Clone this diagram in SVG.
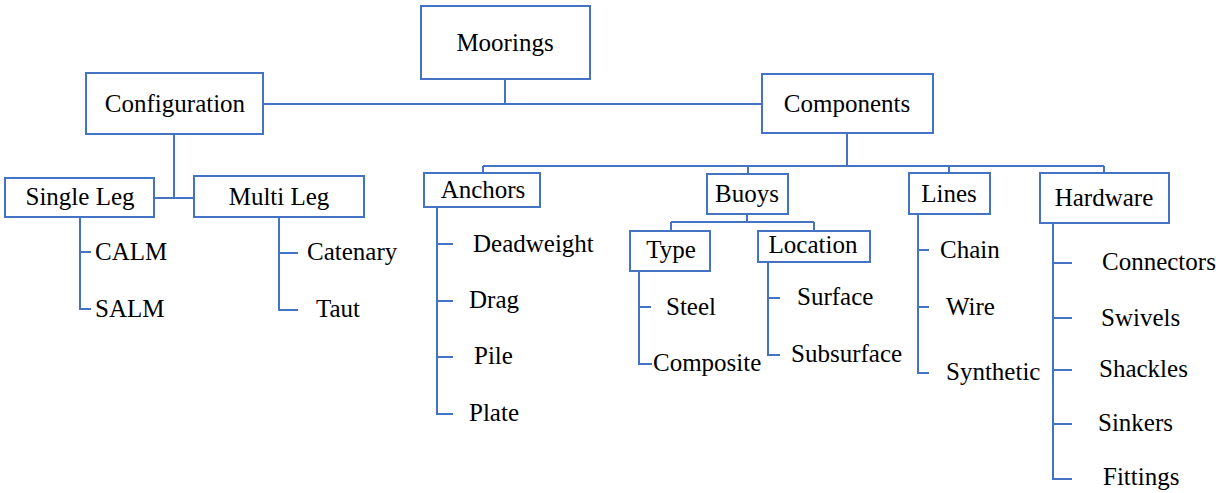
<svg xmlns="http://www.w3.org/2000/svg" width="1216" height="493" viewBox="0 0 1216 493">
<style>
.box{fill:#fff;stroke:#4472C4;stroke-width:2}
.ln{fill:none;stroke:#4472C4;stroke-width:2}
text{font-size:25px;fill:#000}
.c{text-anchor:middle}
</style>
<rect width="1216" height="493" fill="#fff"/>
<g id="connectors" class="ln">
<path d="M505 79V104M263 104H762"/>
<path d="M174 134V198M154 198H194"/>
<path d="M80 217V309H91M80 252H91"/>
<path d="M279 217V310H298M279 253H298"/>
<path d="M847 133V166M483 166H1104M483 166V173M748 166V174M949 166V173M1104 166V173"/>
<path d="M437 207V414H453M437 244H453M437 301H453M437 357H453"/>
<path d="M747 214V222M671 222H814M671 222V231M814 222V231"/>
<path d="M639 271V364H652M639 307H651"/>
<path d="M768 262V355H780M768 298H780"/>
<path d="M918 214V373H929M918 250H929M918 307H929"/>
<path d="M1053 223V479H1072M1053 263H1072M1053 318H1072M1053 370H1072M1053 424H1072"/>
</g>
<g font-family="'Liberation Serif', 'DejaVu Serif', 'Times New Roman', serif">
<g id="moorings"><rect class="box" x="421" y="6" width="169" height="73"/><text class="c" x="505" y="51">Moorings</text></g>
<g id="configuration"><rect class="box" x="86" y="73" width="177" height="61"/><text class="c" x="175" y="112">Configuration</text></g>
<g id="components"><rect class="box" x="762" y="74" width="171" height="59"/><text class="c" x="847" y="112">Components</text></g>
<g id="single-leg"><rect class="box" x="5" y="178" width="149" height="39"/><text class="c" x="80" y="205">Single Leg</text></g>
<g id="multi-leg"><rect class="box" x="194" y="176" width="170" height="41"/><text class="c" x="279" y="205">Multi Leg</text></g>
<g id="calm"><text x="95" y="260">CALM</text></g>
<g id="salm"><text x="95" y="317">SALM</text></g>
<g id="catenary"><text x="307" y="260">Catenary</text></g>
<g id="taut"><text x="316" y="317">Taut</text></g>
<g id="anchors"><rect class="box" x="424" y="173" width="116" height="34"/><text class="c" x="483" y="198">Anchors</text></g>
<g id="deadweight"><text x="473" y="252">Deadweight</text></g>
<g id="drag"><text x="469" y="308">Drag</text></g>
<g id="pile"><text x="474" y="364">Pile</text></g>
<g id="plate"><text x="469" y="421">Plate</text></g>
<g id="buoys"><rect class="box" x="707" y="174" width="81" height="40"/><text class="c" x="747" y="202">Buoys</text></g>
<g id="type"><rect class="box" x="630" y="231" width="80" height="40"/><text class="c" x="671" y="258">Type</text></g>
<g id="location"><rect class="box" x="758" y="231" width="112" height="31"/><text class="c" x="813" y="253">Location</text></g>
<g id="steel"><text x="666" y="315">Steel</text></g>
<g id="composite"><text x="653" y="371">Composite</text></g>
<g id="surface"><text x="797" y="305">Surface</text></g>
<g id="subsurface"><text x="791" y="362">Subsurface</text></g>
<g id="lines"><rect class="box" x="909" y="173" width="81" height="41"/><text class="c" x="949" y="202">Lines</text></g>
<g id="chain"><text x="940" y="258">Chain</text></g>
<g id="wire"><text x="946" y="315">Wire</text></g>
<g id="synthetic"><text x="946" y="380">Synthetic</text></g>
<g id="hardware"><rect class="box" x="1040" y="173" width="129" height="50"/><text class="c" x="1104" y="206">Hardware</text></g>
<g id="connectors-item"><text x="1102" y="270">Connectors</text></g>
<g id="swivels"><text x="1101" y="326">Swivels</text></g>
<g id="shackles"><text x="1099" y="377">Shackles</text></g>
<g id="sinkers"><text x="1098" y="431">Sinkers</text></g>
<g id="fittings"><text x="1103" y="485">Fittings</text></g>
</g>
</svg>
